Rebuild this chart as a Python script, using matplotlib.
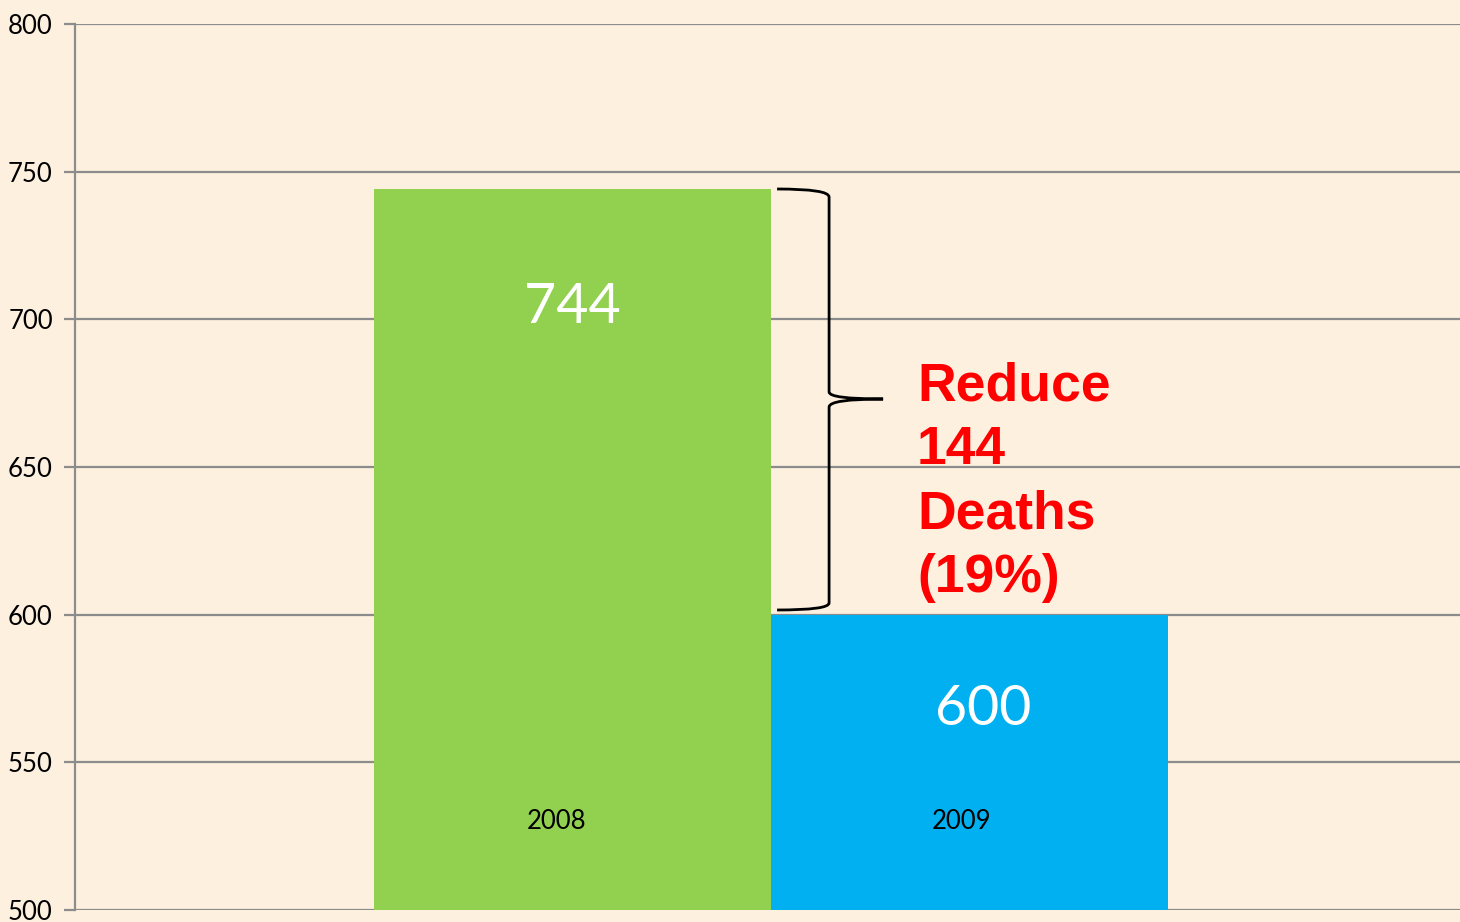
import matplotlib.pyplot as plt
from matplotlib.path import Path
from matplotlib.patches import PathPatch

years = ['2008', '2009']
deaths = [744, 600]
colors = ['#92D050', '#00B0F0']
yticks = [500, 550, 600, 650, 700, 750, 800]
note = 'Reduce\n144\nDeaths\n(19%)'

bg = '#FDF0DF'
fig = plt.figure(figsize=(14.6, 9.22), dpi=100, facecolor=bg)
ax = fig.add_axes([75 / 1460, 12 / 922, 1 - 75 / 1460, 886 / 922])
ax.set_facecolor(bg)

x = list(range(len(years)))
ax.bar(x, deaths, width=1.0, color=colors, zorder=3)
ax.set_ylim(500, 800)
ax.set_xlim(-1.253, 2.235)
ax.set_yticks(yticks)
ax.set_yticklabels([str(t) for t in yticks], fontsize=18.5, family='Lato')
ax.set_xticks([])
ax.yaxis.grid(True, color='#8c8c8c', linewidth=1.6, zorder=0)
ax.tick_params(axis='y', length=8, width=1.6, color='#8c8c8c', pad=8)
for s in ['top', 'right', 'bottom']:
    ax.spines[s].set_visible(False)
ax.spines['left'].set_color('#8c8c8c')
ax.spines['left'].set_linewidth(1.6)

# value labels and year labels inside bars
value_dx = [0.0, 0.035]
value_dy = [-40, -32]
year_dx = [-0.04, -0.02]
for i, v in enumerate(deaths):
    ax.text(i + value_dx[i], v + value_dy[i], str(v), color='white', fontsize=40,
            family='Lato', ha='center', va='center', zorder=4)
    ax.text(i + year_dx[i], 530, years[i], color='black', fontsize=18.5,
            family='Lato', ha='center', va='center', zorder=4)

# curly brace between the two bar tops
def px(xp):
    return (xp - 572.5) / 397.0

def py(yp):
    return 800 - (yp - 24) / (886 / 300.0)

verts = [
    (px(777), py(189)), (px(829), py(189)), (px(829), py(197)),
    (px(829), py(392)),
    (px(829), py(399)), (px(883), py(399)),
    (px(829), py(399)), (px(829), py(407)),
    (px(829), py(603)),
    (px(829), py(610)), (px(777), py(610)),
]
codes = [Path.MOVETO, Path.CURVE3, Path.CURVE3, Path.LINETO,
         Path.CURVE3, Path.CURVE3, Path.CURVE3, Path.CURVE3,
         Path.LINETO, Path.CURVE3, Path.CURVE3]
ax.add_patch(PathPatch(Path(verts, codes), facecolor='none', edgecolor='black',
                       linewidth=2, zorder=5))

ax.text(px(917), py(361), note, color='#FF0000', fontsize=38.5, fontweight='bold',
        family='Liberation Sans', ha='left', va='top', linespacing=1.36,
        zorder=5)

fig.savefig('out.png', dpi=100, facecolor=bg)
